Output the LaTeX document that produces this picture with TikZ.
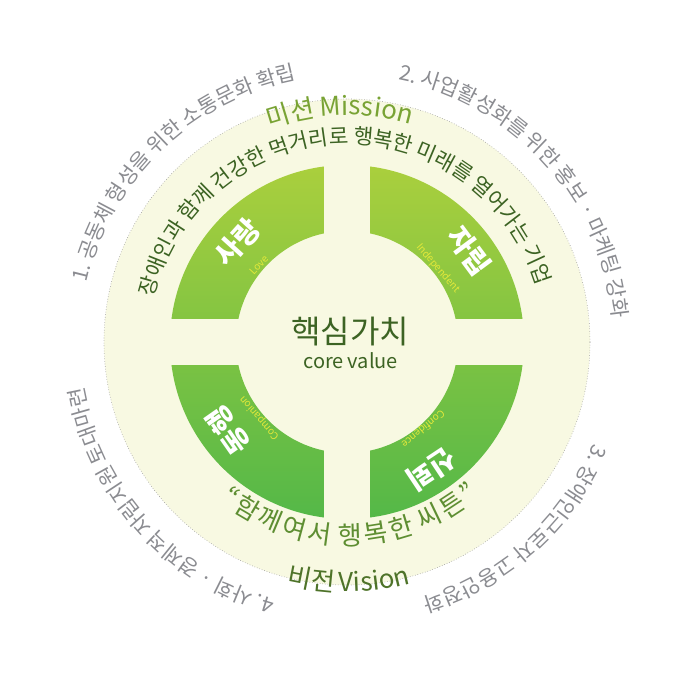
\documentclass[tikz,border=0pt]{standalone}
\usepackage{fontspec}
\usetikzlibrary{decorations.text}
\newfontfamily\kr[WordSpace=0.4]{Noto Sans CJK KR}
\newfontfamily\krt[WordSpace=0.55]{Noto Sans CJK KR}
\newfontfamily\krw[WordSpace=0.9]{Noto Sans CJK KR}
\newcommand\trk[1]{{#1\kern3pt}}
\definecolor{pale}{HTML}{F8F9E2}
\definecolor{grtxt}{HTML}{8B8C91}
\definecolor{dkgreen}{HTML}{3C6323}
\definecolor{midgreen}{HTML}{5E8E32}
\definecolor{olive}{HTML}{79A334}
\definecolor{visgreen}{HTML}{4E7329}
\definecolor{segtop}{HTML}{AACF3D}
\definecolor{segbot}{HTML}{54B848}
\definecolor{ylw}{HTML}{E3E83A}
\definecolor{dotgray}{HTML}{9A9A9A}
\begin{document}
\begin{tikzpicture}[x=1pt,y=1pt,
  seglabel/.style={text=white,font=\kr\bfseries\fontsize{28}{31}\selectfont,inner sep=0pt},
  seglatin/.style={text=ylw,font=\kr\fontsize{10}{12}\selectfont,inner sep=0pt},
  corebig/.style={text=dkgreen,font=\kr\fontsize{32}{35}\selectfont,inner sep=0pt},
  coresmall/.style={text=dkgreen,font=\kr\fontsize{20}{24}\selectfont,inner sep=0pt}]
\useasboundingbox (-347,-358) rectangle (353,342);
% light disc
\fill[pale] (0,0) circle[radius=243pt];
\draw[dotgray,dotted,line width=0.6pt] (0,0) circle[radius=243pt];
% green ring with cross gap
\shade[top color=segtop,bottom color=segbot,even odd rule] (0,0) circle[radius=177pt] (0,0) circle[radius=111pt];
\fill[pale] (-23.3,-180) rectangle (23.3,180);
\fill[pale] (-180,-23.3) rectangle (180,23.3);
% segment labels
\node[seglabel,rotate=47.8] (love) at (137.8:148pt) {사랑};
\node[seglatin,rotate=47] (lovee) at (139:117pt) {Love};
\node[seglabel,rotate=-53.4] (indep) at (36.6:152pt) {자립};
\node[seglatin,rotate=-49] (indepe) at (39:117pt) {Independent};
\node[seglabel,rotate=125] (comp) at (216.7:148pt) {동행};
\node[seglatin,rotate=131] (compe) at (221:116pt) {Companion};
\node[seglabel,rotate=-146.4] (conf) at (-56.4:153pt) {신뢰};
\node[seglatin,rotate=-140] (confe) at (-48.7:116pt) {Confidence};
% centre
\node[corebig] (core) at (3.4,10.6) {핵심가치};
\node[coresmall] (corev) at (3.7,-18.7) {core value};
% mission statement (inner top arc)
\path[decorate,decoration={text along path,text align=center,text color=dkgreen,
  text={|\kr\fontsize{21.3}{24}\selectfont|장애인과 함께 건강한 먹거리로 행복한 미래를 열어가는 기업}}]
  (191.7:198pt) arc[start angle=191.7,end angle=-8.3,radius=198pt];
% vision statement (inner bottom arc)
\path[decorate,decoration={text along path,text align=center,text color=midgreen,
  text={|\krw\fontsize{26}{29}\selectfont|\trk{“}\trk{함}\trk{께}\trk{여}\trk{서} \trk{행}\trk{복}\trk{한} \trk{씨}\trk{튼}”}}]
  (171:203pt) arc[start angle=171,end angle=371,radius=203pt];
% titles
\path[decorate,decoration={text along path,text align=center,text color=olive,
  text={|\krt\fontsize{26}{29}\selectfont|미션 Mission}}]
  (191.8:227pt) arc[start angle=191.8,end angle=-8.2,radius=227pt];
\path[decorate,decoration={text along path,text align=center,text color=visgreen,
  text={|\krt\fontsize{26}{29}\selectfont|비전 Vision}}]
  (170.5:250pt) arc[start angle=170.5,end angle=370.5,radius=250pt];
% outer goals
\path[decorate,decoration={text along path,text align=center,text color=grtxt,
  text={|\kr\fontsize{21}{24}\selectfont|1. 공동체 형성을 위한 소통문화 확립}}]
  (234:267pt) arc[start angle=234,end angle=34,radius=267pt];
\path[decorate,decoration={text along path,text align=center,text color=grtxt,
  text={|\kr\fontsize{21}{24}\selectfont|2. 사업활성화를 위한 홍보 · 마케팅 강화}}]
  (142:267pt) arc[start angle=142,end angle=-58,radius=267pt];
\path[decorate,decoration={text along path,text align=center,text color=grtxt,
  text={|\kr\fontsize{21}{24}\selectfont|3. 장애인근로자 고용안정화}}]
  (52:267pt) arc[start angle=52,end angle=-148,radius=267pt];
\path[decorate,decoration={text along path,text align=center,text color=grtxt,
  text={|\kr\fontsize{21}{24}\selectfont|4. 사회 · 경제적 자립지원 토대마련}}]
  (322:267pt) arc[start angle=322,end angle=122,radius=267pt];
\end{tikzpicture}
\end{document}
